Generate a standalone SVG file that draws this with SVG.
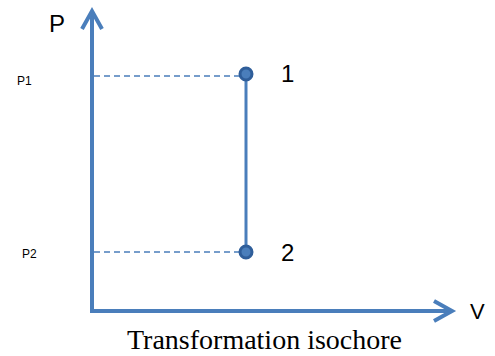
<svg xmlns="http://www.w3.org/2000/svg" width="495" height="356" viewBox="0 0 495 356">
<style>
.ax{fill:none;stroke:#4A7EBB;stroke-width:4;stroke-linejoin:miter}
.dash{fill:none;stroke:#4A7EBB;stroke-width:1.5;stroke-dasharray:6 4}
.iso{fill:none;stroke:#4A7EBB;stroke-width:3}
.pt{fill:#4A7EBB;stroke:#2F5E9A;stroke-width:3}
.lbl{font-family:"Liberation Sans",Arial,sans-serif;fill:#000}
.cap{font-family:"Liberation Serif","Times New Roman",serif;fill:#000}
</style>
<g id="axes">
<path class="ax" d="M92 11 V311 H452"/>
<path class="ax" d="M82 29 L92 11 L102 29"/>
<path class="ax" d="M434 301 L452 311 L434 321"/>
</g>
<g id="connectors">
<path class="dash" d="M94 76 H240"/>
<path class="dash" d="M94 252 H240"/>
<path class="iso" d="M246 74 V252"/>
</g>
<g id="node1">
<circle class="pt" cx="246" cy="74" r="6"/>
<text class="lbl" x="281" y="82" font-size="24">1</text>
</g>
<g id="node2">
<circle class="pt" cx="246" cy="252" r="6"/>
<text class="lbl" x="281" y="261" font-size="24">2</text>
</g>
<g id="labels">
<text class="lbl" x="49" y="32" font-size="24">P</text>
<text class="lbl" x="17" y="85" font-size="12">P1</text>
<text class="lbl" x="22" y="258" font-size="12">P2</text>
<text class="lbl" x="470" y="319" font-size="22">V</text>
<text class="cap" x="264.5" y="349" font-size="28" text-anchor="middle">Transformation isochore</text>
</g>
</svg>
